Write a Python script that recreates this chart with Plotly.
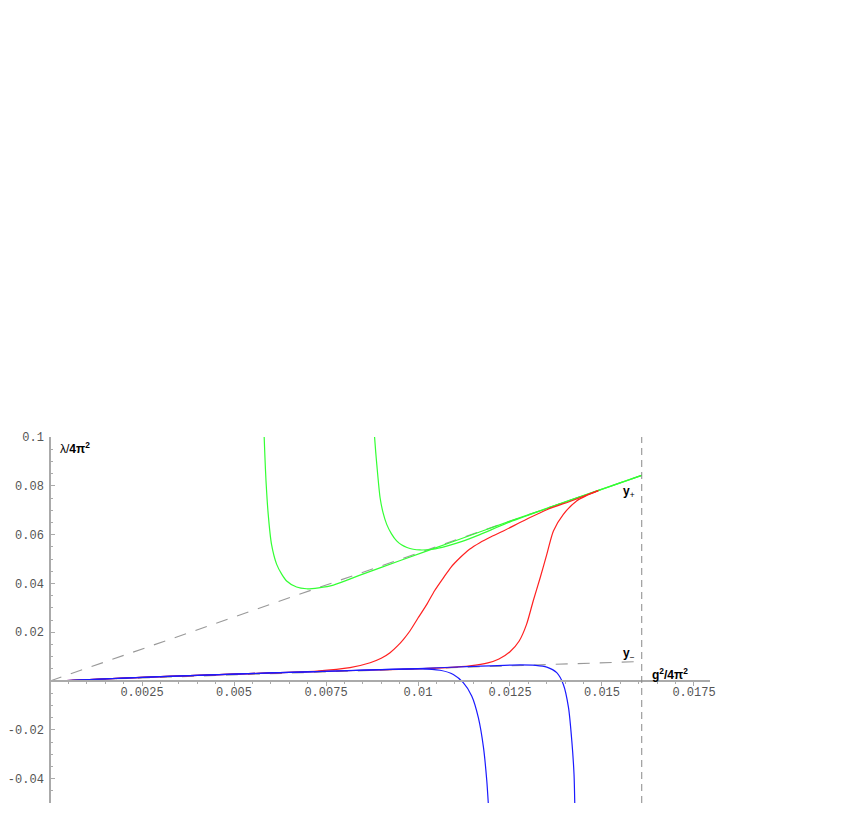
import plotly.graph_objects as go

# dashed reference lines y+ and y-
ref_x = [0.0, 0.01608]
yplus = [0.0, 0.0843]
yminus = [0.0, 0.0080]
x_wall = 0.01608

# green curves
g1_x = [0.00582, 0.00584, 0.00587, 0.00593, 0.00602, 0.00616, 0.0063, 0.00643, 0.0067, 0.00697, 0.0073, 0.0077, 0.0085, 0.0095, 0.0110, 0.0125, 0.0140, 0.01608]
g1_y = [0.1, 0.092, 0.082, 0.0683, 0.056, 0.0478, 0.0437, 0.041, 0.0385, 0.0378, 0.0382, 0.0393, 0.0438, 0.0493, 0.0574, 0.0655, 0.0734, 0.0843]
g2_x = [0.00882, 0.00885, 0.00888, 0.00897, 0.00905, 0.00915, 0.00928, 0.00942, 0.00955, 0.0097, 0.00987, 0.01005, 0.0104, 0.01078, 0.0112, 0.01168, 0.0125, 0.0140, 0.01608]
g2_y = [0.1, 0.094, 0.0888, 0.0751, 0.0690, 0.0642, 0.0603, 0.0574, 0.0558, 0.0547, 0.0540, 0.0537, 0.0540, 0.0553, 0.0572, 0.0600, 0.0652, 0.0733, 0.0843]

# red curves
r1_x = [0.0003, 0.002, 0.004, 0.006, 0.00725, 0.00815, 0.0087, 0.009, 0.00924, 0.00945, 0.0096, 0.00978, 0.01, 0.01024, 0.01045, 0.01069, 0.0109, 0.01114, 0.0114, 0.01168, 0.0120, 0.01232, 0.01295, 0.0135, 0.0142, 0.0149]
r1_y = [0.0001, 0.0012, 0.0023, 0.0033, 0.0041, 0.0055, 0.0075, 0.0093, 0.0116, 0.0145, 0.0170, 0.0205, 0.0258, 0.0314, 0.0370, 0.0423, 0.0467, 0.0505, 0.0540, 0.0567, 0.0592, 0.0615, 0.0663, 0.0702, 0.0740, 0.0780]
r2_x = [0.0003, 0.002, 0.004, 0.006, 0.008, 0.010, 0.0108, 0.01141, 0.0119, 0.0122, 0.0125, 0.01275, 0.01295, 0.01313, 0.01332, 0.0135, 0.01368, 0.01395, 0.01431, 0.01458, 0.0149]
r2_y = [0.0001, 0.0012, 0.0023, 0.0033, 0.0042, 0.0050, 0.0055, 0.0062, 0.0074, 0.0090, 0.0120, 0.0164, 0.0232, 0.0328, 0.0423, 0.0519, 0.0615, 0.0683, 0.0738, 0.0760, 0.0780]

# blue curves
b1_x = [0.0003, 0.002, 0.004, 0.006, 0.008, 0.01005, 0.0106, 0.01096, 0.01123, 0.01146, 0.01164, 0.01178, 0.01187, 0.01191]
b1_y = [0.0001, 0.0012, 0.0023, 0.0033, 0.0042, 0.0050, 0.0044, 0.0027, -0.0007, -0.0061, -0.015, -0.0273, -0.041, -0.05]
b2_x = [0.0003, 0.002, 0.004, 0.006, 0.008, 0.010, 0.0115, 0.01277, 0.0132, 0.0135, 0.01377, 0.01395, 0.01409, 0.01418, 0.01424, 0.01426]
b2_y = [0.0001, 0.0012, 0.0023, 0.0033, 0.0042, 0.0051, 0.0060, 0.0066, 0.0064, 0.0057, 0.0034, -0.0014, -0.0109, -0.0246, -0.0383, -0.05]

x_ticks = [0.0025, 0.005, 0.0075, 0.01, 0.0125, 0.015, 0.0175]
x_labels = ["0.0025", "0.005", "0.0075", "0.01", "0.0125", "0.015", "0.0175"]
y_ticks = [-0.04, -0.02, 0.02, 0.04, 0.06, 0.08, 0.1]
y_labels = ["-0.04", "-0.02", "0.02", "0.04", "0.06", "0.08", "0.1"]

fig = go.Figure()

# dashed asymptotes
for ys in (yplus, yminus):
    fig.add_trace(go.Scatter(x=ref_x, y=ys, mode="lines",
                             line=dict(color="#999999", width=1.1, dash="12px,10px")))

curves = [(g1_x, g1_y, "#33ff33"), (g2_x, g2_y, "#33ff33"),
          (r1_x, r1_y, "#ff2020"), (r2_x, r2_y, "#ff2020"),
          (b1_x, b1_y, "#1a1aff"), (b2_x, b2_y, "#1a1aff")]
for cx, cy, col in curves:
    fig.add_trace(go.Scatter(x=cx, y=cy, mode="lines",
                             line=dict(color=col, width=1.2, shape="spline", smoothing=0.7)))

# vertical wall
fig.add_shape(type="line", x0=x_wall, x1=x_wall, y0=-0.05, y1=0.1, xref="x", yref="y",
              line=dict(color="#888888", width=1, dash="7px,5px"))

tickfont = dict(family="Liberation Mono, Courier New, monospace", size=12, color="#555555")
fig.update_xaxes(range=[0, 0.017935], anchor="free", position=1/3, automargin=False,
                 showline=True, linecolor="#aaaaaa", linewidth=1.5,
                 showgrid=False, zeroline=False,
                 tickvals=x_ticks, ticktext=x_labels, ticks="outside",
                 ticklen=4, tickcolor="#aaaaaa", tickfont=tickfont, ticklabelstandoff=-4,
                 minor=dict(dtick=0.0005, tick0=0, ticks="outside", ticklen=2, tickcolor="#aaaaaa"))
fig.update_yaxes(range=[-0.05, 0.1], anchor="free", position=0, automargin=False,
                 showline=True, linecolor="#aaaaaa", linewidth=1.5,
                 showgrid=False, zeroline=False,
                 tickvals=y_ticks, ticktext=y_labels, ticks="inside",
                 ticklen=4, tickcolor="#aaaaaa", tickfont=tickfont, ticklabelstandoff=3,
                 minor=dict(dtick=0.005, tick0=0, ticks="inside", ticklen=2, tickcolor="#aaaaaa"))

labfont = dict(family="Liberation Sans", size=12, color="black")
fig.add_annotation(x=0.00022, y=0.0955, text="λ/<b>4π<sup>2</sup></b>", showarrow=False,
                   xanchor="left", yanchor="middle", font=labfont)
fig.add_annotation(x=0.0163, y=0.0029, text="<b>g<sup>2</sup>/4π<sup>2</sup></b>", showarrow=False,
                   xanchor="left", yanchor="middle", font=labfont)
fig.add_annotation(x=0.01595, y=0.0775, text="<b>y</b><sub>+</sub>", showarrow=False,
                   xanchor="right", yanchor="middle", font=labfont)
fig.add_annotation(x=0.01595, y=0.0110, text="<b>y</b><sub>−</sub>", showarrow=False,
                   xanchor="right", yanchor="middle", font=labfont)

# page body adds an 8px offset, so margins are shifted to compensate
fig.update_layout(width=850, height=817, showlegend=False,
                  paper_bgcolor="white", plot_bgcolor="white",
                  margin=dict(l=42, r=148, t=429, b=22))

fig.write_html("out.html")
